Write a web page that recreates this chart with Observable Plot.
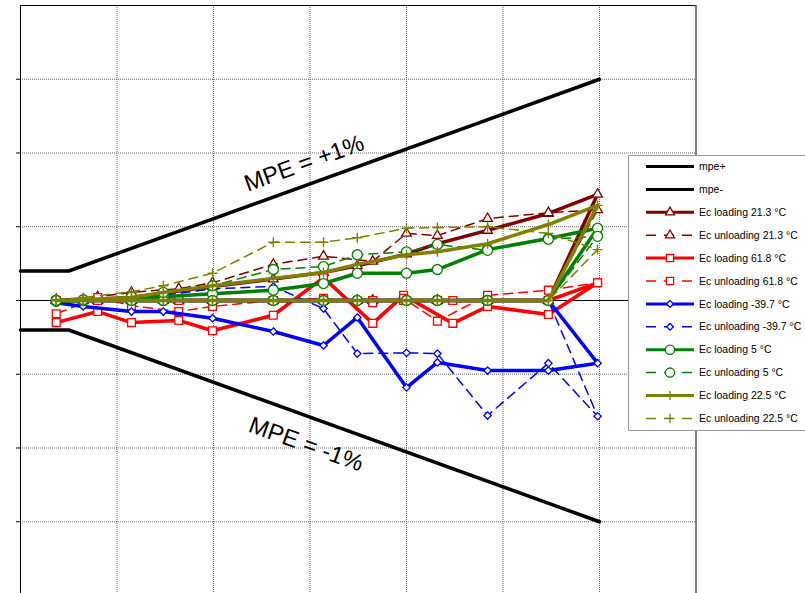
<!DOCTYPE html>
<html>
<head>
<meta charset="utf-8">
<script src="https://cdn.jsdelivr.net/npm/d3@7"></script>
<script src="https://cdn.jsdelivr.net/npm/@observablehq/plot@0.6"></script>
<style>
  body { margin: 0; background: #fff; }
  #chart { width: 805px; height: 593px; overflow: hidden; }
  svg { font-family: Arial, "Liberation Sans", sans-serif; }
</style>
</head>
<body>
<div id="chart"></div>
<script>
// ---- data (x = load in grid units, y = error in grid units) ----
const loadsA = [0.37, 0.65, 1.15, 1.48, 1.99, 2.62, 3.14, 3.49, 4.00, 4.32, 4.84, 5.47, 5.98];
const loadsB = [0.37, 0.80, 1.15, 1.64, 1.99, 2.62, 3.14, 3.65, 3.97, 4.48, 4.84, 5.47, 5.98];
const loadsC = [0.37, 0.80, 1.15, 1.64, 1.99, 2.62, 3.14, 3.65, 4.00, 4.32, 4.84, 5.47, 5.98];
const loadsD = [0.37, 0.80, 1.15, 1.64, 1.99, 2.62, 3.14, 3.65, 3.97, 4.32, 4.84, 5.47, 5.98];

const mpeLoads = [0, 0.5, 6.0];
const mpePlus  = [0.4, 0.4, 3.0];
const mpeMinus = [-0.4, -0.4, -3.0];

const seriesNames = [
  "mpe+", "mpe-",
  "Ec loading 21.3 °C", "Ec unloading 21.3 °C",
  "Ec loading 61.8 °C", "Ec unloading 61.8 °C",
  "Ec loading -39.7 °C", "Ec unloading -39.7 °C",
  "Ec loading 5 °C", "Ec unloading 5 °C",
  "Ec loading 22.5 °C", "Ec unloading 22.5 °C"
];

const loading213   = [0, 0.01, 0.04, 0.10, 0.19, 0.29, 0.38, 0.47, 0.63, 0.77, 0.95, 1.18, 1.44];
const unloading213 = [0.01, 0.05, 0.11, 0.16, 0.24, 0.49, 0.60, 0.53, 0.91, 0.88, 1.11, 1.19, 1.23];
const loading618   = [-0.30, -0.15, -0.30, -0.27, -0.41, -0.20, 0.31, -0.31, 0.07, -0.31, -0.08, -0.19, 0.24];
const unloading618 = [-0.18, 0.04, -0.07, -0.15, -0.08, 0.00, 0.03, -0.03, 0.03, -0.28, 0.07, 0.14, 0.24];
const loadingM397  = [-0.03, -0.08, -0.15, -0.15, -0.24, -0.42, -0.61, -0.23, -1.18, -0.84, -0.95, -0.95, -0.85];
const unloadingM397= [-0.01, -0.01, -0.01, 0.07, 0.16, 0.19, -0.11, -0.72, -0.71, -0.72, -1.56, -0.85, -1.57];
const loading5     = [-0.01, 0, 0.03, 0.05, 0.09, 0.14, 0.23, 0.37, 0.37, 0.42, 0.69, 0.84, 0.98];
const unloading5   = [0, 0.01, 0.05, 0.11, 0.20, 0.42, 0.46, 0.62, 0.66, 0.76, 0.68, 0.83, 0.87];
const loading225   = [0, 0.01, 0.04, 0.11, 0.20, 0.30, 0.38, 0.49, 0.62, 0.66, 0.77, 1.03, 1.29];
const unloading225 = [0.01, 0.04, 0.12, 0.20, 0.37, 0.79, 0.79, 0.85, 0.98, 0.99, 1.00, 0.91, 0.69];

const gridXTicks = [1, 2, 3, 4, 5, 6];
const gridYTicks = [-3, -2, -1, 1, 2, 3];
const axisYTicks = [-3, -2, -1, 0, 1, 2, 3];

// ---- styles ----
const styles = [
  {color: "#000000", width: 3.5, dash: null, symbol: null},
  {color: "#000000", width: 3.5, dash: null, symbol: null},
  {color: "#800000", width: 3.5, dash: null, symbol: "triangle", r: 3.6},
  {color: "#800000", width: 1.5, dash: "9,6", symbol: "triangle", r: 3.6},
  {color: "#FF0000", width: 3.5, dash: null, symbol: "square", r: 4.4},
  {color: "#FF0000", width: 1.5, dash: "9,6", symbol: "square", r: 4.4},
  {color: "#0000FF", width: 3.5, dash: null, symbol: "diamond2", r: 3.3},
  {color: "#0000FF", width: 1.5, dash: "9,6", symbol: "diamond2", r: 3.3},
  {color: "#008000", width: 3.5, dash: null, symbol: "circle", r: 5},
  {color: "#008000", width: 1.5, dash: "9,6", symbol: "circle", r: 5},
  {color: "#808000", width: 3.5, dash: null, symbol: "plus", r: 3.3},
  {color: "#808000", width: 1.5, dash: "9,6", symbol: "plus", r: 3.3}
];

const seriesData = [
  [loadsA, loading213], [loadsC, unloading213],
  [loadsB, loading618], [loadsD, unloading618],
  [loadsA, loadingM397], [loadsA, unloadingM397],
  [loadsA, loading5], [loadsA, unloading5],
  [loadsA, loading225], [loadsA, unloading225]
];

// each test run: readings at zero, then the last reading, then back through the readings
function loopRows(xs, ys) {
  const n = xs.length;
  const rows = [];
  for (let i = 0; i < n - 1; i++) rows.push({x: xs[i], y: 0});
  rows.push({x: xs[n - 1], y: ys[n - 1]});
  for (let i = n - 2; i >= 0; i--) rows.push({x: xs[i], y: ys[i]});
  return rows;
}

const mpePlusRows = mpeLoads.map((x, i) => ({x, y: mpePlus[i]}));
const mpeMinusRows = mpeLoads.map((x, i) => ({x, y: mpeMinus[i]}));

const marks = [
  Plot.gridX(gridXTicks, {stroke: "#666", strokeOpacity: 1, strokeWidth: 1, strokeDasharray: "1,1"}),
  Plot.gridY(gridYTicks, {stroke: "#666", strokeOpacity: 1, strokeWidth: 1, strokeDasharray: "1,1"}),
  Plot.axisY(axisYTicks, {anchor: "left", tickSize: 4, tickFormat: () => "", label: null, stroke: "#000"}),
  Plot.ruleX([0, 7], {stroke: "#000", strokeWidth: 1}),
  Plot.ruleY([4], {stroke: "#000", strokeWidth: 1}),
  Plot.ruleY([0], {stroke: "#000", strokeWidth: 1}),
  Plot.line(mpePlusRows, {x: "x", y: "y", stroke: styles[0].color, strokeWidth: styles[0].width}),
  Plot.line(mpeMinusRows, {x: "x", y: "y", stroke: styles[1].color, strokeWidth: styles[1].width}),
  Plot.text(["MPE = +1%"], {x: 2.94, y: 1.86, text: d => d, rotate: -19.8, fontSize: 23.5, fill: "#000"}),
  Plot.text(["MPE = -1%"], {x: 2.96, y: -1.95, text: d => d, rotate: 19.8, fontSize: 23.5, fill: "#000"})
];

seriesData.forEach(([xs, ys], i) => {
  const st = styles[i + 2];
  const rows = loopRows(xs, ys);
  marks.push(Plot.line(rows, {
    x: "x", y: "y", stroke: st.color, strokeWidth: st.width,
    strokeDasharray: st.dash || undefined, strokeLinejoin: "round", curve: "linear"
  }));
  const isPlus = st.symbol === "plus";
  marks.push(Plot.dot(rows, {
    x: "x", y: "y", symbol: st.symbol, r: st.r,
    stroke: st.color, strokeWidth: isPlus ? 1.4 : 1.3,
    fill: isPlus ? "none" : "white"
  }));
});

const plot = Plot.plot({
  width: 805, height: 593,
  marginLeft: 20, marginRight: 109.5, marginTop: 5, marginBottom: 0,
  x: {domain: [0, 7], axis: null},
  y: {domain: [-3.973, 4], axis: null},
  style: {background: "white", overflow: "visible"},
  marks
});

// ---- legend drawn inside the svg ----
const svg = d3.select(plot);
const lg = svg.append("g").attr("font-family", "Arial, 'Liberation Sans', sans-serif").attr("text-anchor", "start");
lg.append("rect").attr("x", 628.5).attr("y", 155.5).attr("width", 180).attr("height", 275)
  .attr("fill", "white").attr("stroke", "#999").attr("stroke-width", 1);
const symMap = {triangle: d3.symbolTriangle, square: d3.symbolSquare, diamond2: d3.symbolDiamond2, circle: d3.symbolCircle, plus: d3.symbolPlus};
seriesNames.forEach((name, i) => {
  const st = styles[i];
  const y = 166.5 + i * 22.9;
  lg.append("line").attr("x1", 646).attr("x2", 694).attr("y1", y).attr("y2", y)
    .attr("stroke", st.color).attr("stroke-width", st.width === 3.5 ? 3 : 1.5)
    .attr("stroke-dasharray", st.dash ? "10,8" : null);
  if (st.symbol) {
    const isPlus = st.symbol === "plus";
    lg.append("path").attr("transform", `translate(670,${y})`)
      .attr("d", d3.symbol(symMap[st.symbol], Math.PI * st.r * st.r * 0.85)())
      .attr("fill", isPlus ? "none" : "white").attr("stroke", st.color).attr("stroke-width", 1.3);
  }
  lg.append("text").attr("x", 699).attr("y", y).attr("dy", "0.35em")
    .attr("text-anchor", "start")
    .attr("font-size", 10.5).attr("fill", "#000").text(name);
});

document.getElementById("chart").appendChild(plot);
</script>
</body>
</html>
